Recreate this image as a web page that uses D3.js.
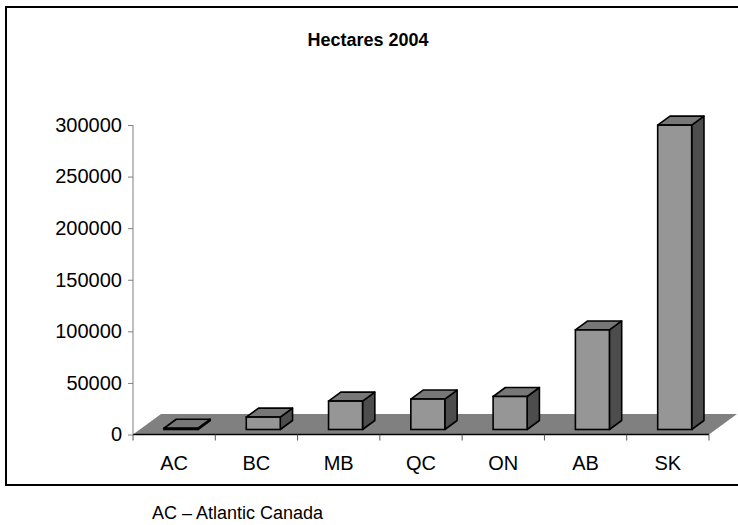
<!DOCTYPE html>
<html><head><meta charset="utf-8">
<script src="https://cdn.jsdelivr.net/npm/d3@7"></script>
<style>body{margin:0;background:#fff}svg{display:block}text{font-family:"Liberation Sans",Arial,sans-serif}</style>
</head><body>
<script>
const categories = ["AC","BC","MB","QC","ON","AB","SK"];
const values = [1200, 12000, 27500, 29500, 32000, 96500, 295000];
const yTicks = [0,50000,100000,150000,200000,250000,300000];
const title = "Hectares 2004";
const note = "AC \u2013 Atlantic Canada";

const W = 738, H = 525;
const svg = d3.select("body").append("svg").attr("width", W).attr("height", H);

// frame
svg.append("rect").attr("x",6).attr("y",7).attr("width",740).attr("height",478)
  .attr("fill","#fff").attr("stroke","#000").attr("stroke-width",2);

const x0 = 133, x1 = 709, yBase = 434.5;
const x = d3.scaleBand().domain(categories).range([x0, x1]).paddingInner(0).paddingOuter(0);
const y = d3.scaleLinear().domain([0,300000]).range([yBase, 125]);

const depthDx = 28, depthDy = 20.5;   // floor depth offset
const f0 = 5/20.5, fd = 9/20.5;         // bar front position & depth as fraction of floor
const barW = 34;

// floor
svg.append("path")
  .attr("d", `M${x0},${yBase} L${x1},${yBase} L${x1+depthDx},${yBase-depthDy} L${x0+depthDx},${yBase-depthDy} Z`)
  .attr("fill","#808080").attr("stroke","none");

// x axis line and ticks
svg.append("line").attr("x1",x0).attr("x2",x1).attr("y1",yBase).attr("y2",yBase)
  .attr("stroke","#000").attr("stroke-width",1.5);
const bounds = categories.map(c => x(c)).concat([x1]);
svg.selectAll(".xt").data(bounds).enter().append("line")
  .attr("x1",d=>d).attr("x2",d=>d).attr("y1",yBase).attr("y2",yBase+6)
  .attr("stroke","#555").attr("stroke-width",1);

// y axis
const yAxis = svg.append("g").attr("transform",`translate(${x0},0)`)
  .call(d3.axisLeft(y).tickValues(yTicks).tickSize(5).tickPadding(6).tickFormat(d3.format("d")));
yAxis.select(".domain").attr("stroke","#808080").attr("d",`M-0,${y(300000)}V${yBase}`);
yAxis.selectAll(".tick line").attr("stroke","#808080");
yAxis.selectAll(".tick text").attr("font-size",20).attr("fill","#000")
  .attr("font-family","'Liberation Sans',Arial,sans-serif");

// bars
const g = svg.append("g");
categories.forEach((c,i) => {
  const v = values[i];
  const ox = depthDx*f0, oy = depthDy*f0;
  const bdx = depthDx*fd, bdy = depthDy*fd;
  const cx = x(c) + x.bandwidth()/2 + ox;
  const l = cx - barW/2, r = cx + barW/2;
  const b = y(0) - oy, t = y(v) - oy;
  g.append("path").attr("d",`M${r},${b} L${r+bdx},${b-bdy} L${r+bdx},${t-bdy} L${r},${t} Z`)
    .attr("fill","#4d4d4d").attr("stroke","#000").attr("stroke-width",1.6).attr("stroke-linejoin","round");
  g.append("path").attr("d",`M${l},${t} L${r},${t} L${r+bdx},${t-bdy} L${l+bdx},${t-bdy} Z`)
    .attr("fill","#777").attr("stroke","#000").attr("stroke-width",1.6).attr("stroke-linejoin","round");
  g.append("rect").attr("x",l).attr("y",t).attr("width",barW).attr("height",Math.max(0,b-t))
    .attr("fill","#969696").attr("stroke","#000").attr("stroke-width",1.6);
});

// x labels
svg.selectAll(".xl").data(categories).enter().append("text")
  .attr("x",d=>x(d)+x.bandwidth()/2).attr("y",470).attr("text-anchor","middle")
  .attr("font-size",20).text(d=>d);

// title
svg.append("text").attr("x",368).attr("y",46).attr("text-anchor","middle")
  .attr("font-size",18).attr("font-weight","bold").text(title);

// note
svg.append("text").attr("x",152).attr("y",519).attr("font-size",18).text(note);
</script>
</body></html>
